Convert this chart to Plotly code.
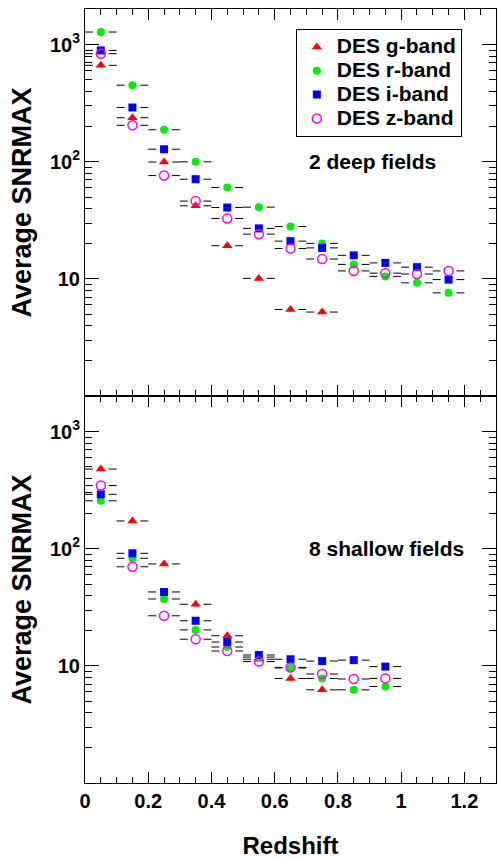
import plotly.graph_objects as go
from plotly.subplots import make_subplots

# redshift bin centres and half width
REDSHIFT = [0.05, 0.15, 0.25, 0.35, 0.45, 0.55, 0.65, 0.75, 0.85, 0.95, 1.05, 1.15]
BIN_HALF = 0.05

# average SNRMAX, 2 deep fields
DEEP_G = [667, 238, 99.6, 42.1, 19.2, 10.1, 5.48, 5.21]
DEEP_R = [1283, 451, 188, 100, 60.3, 41, 28.0, 20.1, 13.3, 10.5, 9.25, 7.6]
DEEP_I = [894, 291, 128, 71, 40.7, 27.0, 21.0, 18.4, 15.9, 13.7, 12.6, 9.86]
DEEP_Z = [838, 205, 76.3, 46.2, 32.8, 24.1, 18.2, 14.8, 11.7, 11.2, 11.0, 11.7]

# average SNRMAX, 8 shallow fields
SHALLOW_G = [480, 173, 74.3, 33.6, 18.1, 11.4, 7.8, 6.25]
SHALLOW_R = [257, 83, 37.3, 20.3, 14.5, 11.9, 9.6, 7.82, 6.25, 6.67]
SHALLOW_I = [292, 91.6, 42.8, 24.3, 16.0, 12.4, 11.4, 11.0, 11.2, 9.86]
SHALLOW_Z = [347, 70.3, 26.8, 16.9, 13.4, 10.9, 9.7, 8.53, 7.73, 7.82]

BAND_NAMES = ['DES g-band', 'DES r-band', 'DES i-band', 'DES z-band']
PANEL_LABELS = ['2 deep fields', '8 shallow fields']

Y_TICKS = [10, 100, 1000]
Y_TICKTEXT = ['10', '10<sup>2</sup>', '10<sup>3</sup>']
Y_MINOR = [m * 10 ** k for k in range(0, 4) for m in range(2, 10) if m * 10 ** k < 2100]

FONT = 'Liberation Sans'

MARKERS = [
	dict(symbol='triangle-up', size=9, color='#ff0000'),
	dict(symbol='circle', size=8, color='#00ee00'),
	dict(symbol='square', size=8, color='#0000ff'),
	dict(symbol='circle-open', size=9, color='#ff00ff', line=dict(width=1.5, color='#ff00ff')),
]

GAP = 0.025  # half gap left around the marker, like ROOT does


def ErrorDashes(values):
	xs, ys = [], []
	for x, y in zip(REDSHIFT, values):
		xs += [x - BIN_HALF, x - GAP, None, x + GAP, x + BIN_HALF, None]
		ys += [y, y, None, y, y, None]
	return xs, ys


fig = make_subplots(rows=2, cols=1, shared_xaxes=True, vertical_spacing=0)

panels = [
	[DEEP_G, DEEP_R, DEEP_I, DEEP_Z],
	[SHALLOW_G, SHALLOW_R, SHALLOW_I, SHALLOW_Z],
]

for row, bands in enumerate(panels, start=1):
	for values in bands:
		dx, dy = ErrorDashes(values)
		fig.add_trace(go.Scatter(
			x=dx, y=dy, mode='lines',
			line=dict(color='black', width=1),
			showlegend=False, hoverinfo='skip',
		), row=row, col=1)
	for name, values, marker in zip(BAND_NAMES, bands, MARKERS):
		fig.add_trace(go.Scatter(
			x=REDSHIFT[:len(values)], y=values, mode='markers',
			# legend rows in the reference are tighter than the text size
			name=f'<span style="font-size:21px">{name}</span>',
			marker=marker,
			showlegend=(row == 1),
		), row=row, col=1)

tickfont = dict(family=FONT, size=20, color='black', weight='bold')

fig.update_xaxes(
	range=[0, 1.3], automargin=False,
	tickmode='linear', tick0=0, dtick=0.2,
	ticks='inside', ticklen=11, tickwidth=1, tickcolor='black',
	minor=dict(ticks='inside', dtick=0.05, tick0=0, ticklen=6, tickcolor='black'),
	showline=True, linecolor='black', linewidth=1, mirror='allticks',
	showgrid=False, zeroline=False,
	tickfont=tickfont,
)
fig.update_xaxes(showticklabels=False, row=1, col=1)
fig.update_xaxes(
	title=dict(text='Redshift', font=dict(family=FONT, size=24, color='black', weight='bold'), standoff=28),
	row=2, col=1,
)

fig.update_yaxes(
	type='log', range=[0, 3.305], automargin=False,
	tickmode='array', tickvals=Y_TICKS, ticktext=Y_TICKTEXT,
	ticks='inside', ticklen=14, tickwidth=1, tickcolor='black',
	minor=dict(ticks='inside', tickmode='array', tickvals=Y_MINOR, ticklen=7, tickcolor='black'),
	showline=True, linecolor='black', linewidth=1, mirror='allticks',
	showgrid=False, zeroline=False,
	tickfont=tickfont,
	title=dict(text='Average SNRMAX', font=dict(family=FONT, size=27, color='black', weight='bold'), standoff=10),
)

for row, label in enumerate(PANEL_LABELS, start=1):
	fig.add_annotation(
		text=label, showarrow=False,
		xref='x domain', yref='y domain' if row == 1 else 'y2 domain',
		x=0.539, y=0.607, xanchor='left', yanchor='middle',
		font=dict(family=FONT, size=21, color='black', weight='bold'),
	)

fig.update_layout(
	width=498, height=859,
	margin=dict(l=85, r=2, t=9, b=76),
	paper_bgcolor='white', plot_bgcolor='white',
	legend=dict(
		x=0.513, y=0.974, xanchor='left', yanchor='top',
		bordercolor='black', borderwidth=1, bgcolor='white',
		font=dict(family=FONT, size=16, color='black', weight='bold'),
		tracegroupgap=0,
	),
)

# drop the browser's default body margin so the figure sits at the page corner
fig.write_html(
	'out.html',
	config={'displayModeBar': False},
	post_script="document.body.style.margin = '0';",
)
